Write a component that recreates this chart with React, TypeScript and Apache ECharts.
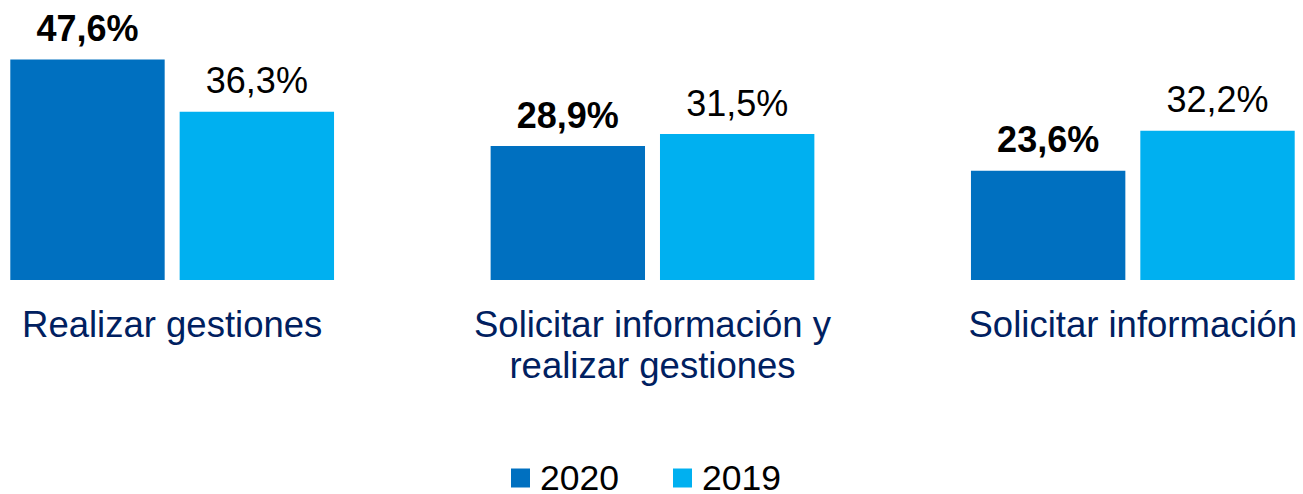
import React, { useEffect, useRef } from "react";
import * as echarts from "echarts";

const categories = ["Realizar gestiones", "Solicitar información y\nrealizar gestiones", "Solicitar información"];
const seriesNames = ["2020", "2019"];
const values2020 = [47.6, 28.9, 23.6];
const values2019 = [36.3, 31.5, 32.2];

const fmt = (v: number) => v.toFixed(1).replace(".", ",") + "%";

export default function App() {
  const ref = useRef<HTMLDivElement>(null);
  useEffect(() => {
    if (!ref.current) return;
    const chart = echarts.init(ref.current, null, { renderer: "svg" });
    const font = "Liberation Sans, Arial, sans-serif";
    chart.setOption({
      animation: false,
      textStyle: { fontFamily: font },
      grid: { left: -68, right: -70, top: 2, bottom: 214, outerBoundsMode: "none", containLabel: false },
      legend: {
        data: seriesNames,
        left: 511,
        top: 460,
        padding: 0,
        itemWidth: 19,
        itemHeight: 19,
        itemGap: 54,
        icon: "rect",
        textStyle: { fontSize: 35.5, lineHeight: 34, color: "#000", fontFamily: font, padding: [0, 0, 0, 5] },
      },
      xAxis: {
        type: "category",
        data: categories,
        axisLine: { show: false },
        axisTick: { show: false },
        axisLabel: {
          fontSize: 36.5,
          color: "#002060",
          margin: 24,
          lineHeight: 41,
          fontFamily: font,
          interval: 0,
        },
      },
      yAxis: {
        type: "value",
        min: 0,
        max: 60,
        show: false,
        splitLine: { show: false },
      },
      series: [
        {
          name: seriesNames[0],
          type: "bar",
          data: values2020,
          barCategoryGap: "32.6%",
          barGap: "9.7%",
          itemStyle: { color: "#0070C0" },
          label: {
            show: true,
            position: "top",
            distance: 13,
            fontSize: 36,
            fontWeight: "bold",
            color: "#000",
            fontFamily: font,
            formatter: (p: any) => fmt(p.value),
          },
        },
        {
          name: seriesNames[1],
          type: "bar",
          data: values2019,
          barCategoryGap: "32.6%",
          barGap: "9.7%",
          itemStyle: { color: "#00B0F0" },
          label: {
            show: true,
            position: "top",
            distance: 13,
            fontSize: 36,
            color: "#000",
            fontFamily: font,
            formatter: (p: any) => fmt(p.value),
          },
        },
      ],
    });
    return () => chart.dispose();
  }, []);
  return (
    <div
      ref={ref}
      style={{ position: "absolute", left: 0, top: 0, width: 1303, height: 494, background: "#fff" }}
    />
  );
}
